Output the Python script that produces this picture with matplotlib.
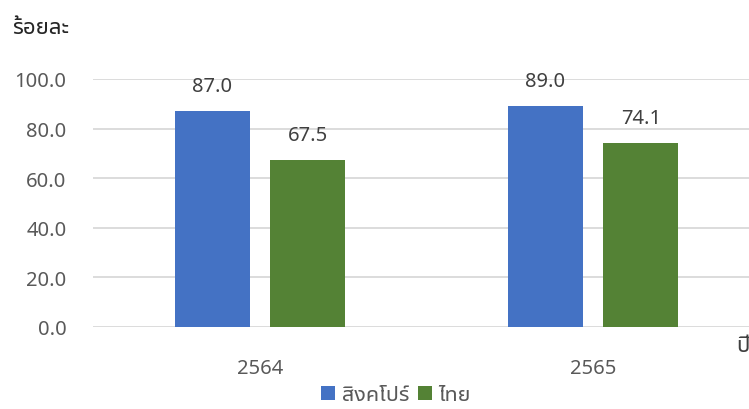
import matplotlib
matplotlib.use("Agg")
import matplotlib.pyplot as plt
import numpy as np

plt.rcParams['font.family'] = ['Noto Sans Thai UI', 'Noto Sans', 'DejaVu Sans']

years = ['2564', '2565']
series_names = ['สิงคโปร์', 'ไทย']
singapore = [87.0, 89.0]
thailand = [67.5, 74.1]
colors = ['#4472C4', '#548235']
yticks = [0, 20, 40, 60, 80, 100]

fig = plt.figure(figsize=(7.49, 4.10), dpi=100)
ax = fig.add_axes([93 / 749, 82 / 410, (749 - 93) / 749, 248 / 410])

x = np.arange(len(years))
w = 0.225
off = 0.143
b1 = ax.bar(x - off, singapore, w, color=colors[0], label=series_names[0], zorder=3)
b2 = ax.bar(x + off, thailand, w, color=colors[1], label=series_names[1], zorder=3)

for bars, vals in [(b1, singapore), (b2, thailand)]:
    for rect, v in zip(bars, vals):
        ax.text(rect.get_x() + rect.get_width() / 2, v + 6.0, f"{v:.1f}",
                ha='center', va='bottom', fontsize=14.5, color='#404040')

ax.set_xlim(-0.5015, 1.468)
ax.set_ylim(0, 100)
ax.set_yticks(yticks)
ax.set_yticklabels([f"{t:.1f}" for t in yticks])
ax.set_xticks(x)
ax.set_xticklabels(years)
ax.grid(axis='y', color='#D9D9D9', linewidth=1.3, zorder=0)
ax.tick_params(length=0, labelsize=14.5, labelcolor='#595959')
ax.tick_params(axis='y', pad=19)
ax.tick_params(axis='x', pad=22)
for s in ax.spines.values():
    s.set_visible(False)

fig.text(12 / 749, 1 - 28 / 410, 'ร้อยละ', fontsize=16, fontweight='bold',
         color='#262626', va='center', ha='left')
fig.text(736 / 749, 1 - 347 / 410, 'ปี', fontsize=16, color='#404040',
         va='center', ha='left')

fig.legend(handles=[b1, b2], loc='center', bbox_to_anchor=(396 / 749, 1 - 396 / 410),
           ncol=2, frameon=False, fontsize=15.5, handlelength=0.65, handleheight=0.65,
           handletextpad=0.3, columnspacing=0.4, labelcolor='#595959')

fig.savefig("out.png")
